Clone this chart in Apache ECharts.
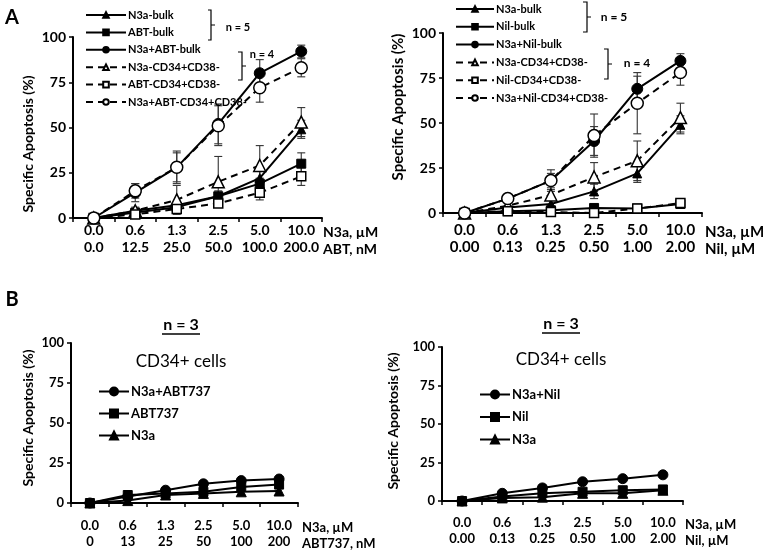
<!DOCTYPE html>
<html>
<head>
<meta charset="utf-8">
<script src="https://cdn.jsdelivr.net/npm/echarts@6/dist/echarts.min.js"></script>
<style>html,body{margin:0;padding:0;background:#fff}#c{width:763px;height:552px}</style>
</head>
<body>
<div id="c"></div>
<script>
// ---- categories / tick labels ----
const n3aDose = ['0.0', '0.6', '1.3', '2.5', '5.0', '10.0'];
const abtDose = ['0.0', '12.5', '25.0', '50.0', '100.0', '200.0'];
const nilDose = ['0.00', '0.13', '0.25', '0.50', '1.00', '2.00'];
const abt737Dose = ['0', '13', '25', '50', '100', '200'];
const yTicks = [0, 25, 50, 75, 100];

// ---- panel A left (N3a + ABT) ----
const aL_N3aBulk = [0, 4, 7, 12, 22, 49];
const aL_AbtBulk = [0, 3, 6, 12, 19, 30];
const aL_ComboBulk = [0, 14, 28, 52, 80, 92];
const aL_N3aCD = [0, 4, 10, 20, 29, 53];
const aL_AbtCD = [0, 2, 5, 8, 14, 23];
const aL_ComboCD = [0, 15, 28, 51, 72, 83];
const aL_errN3aBulk = [0, 1, 2, 3, 4, 5];
const aL_errAbtBulk = [0, 1, 1, 2, 3, 6];
const aL_errComboBulk = [0, 5, 9, 11, 7.5, 3.5];
const aL_errN3aCD = [0, 2, 8, 14, 11, 8];
const aL_errAbtCD = [0, 1, 2, 2, 4, 5];
const aL_errComboCD = [0, 4, 8, 11, 8, 5];

// ---- panel A right (N3a + Nil) ----
const aR_N3aBulk = [0, 3, 5, 12, 22, 49];
const aR_NilBulk = [0, 1, 1.5, 2.8, 2.5, 5];
const aR_ComboBulk = [0, 8, 18, 40, 69, 84.5];
const aR_N3aCD = [0, 4, 10, 20, 29, 53];
const aR_NilCD = [0, 1, 0.5, 0, 2.5, 5.5];
const aR_ComboCD = [0, 8, 18, 43, 61, 78];
const aR_errN3aBulk = [0, 1, 2, 4, 5, 5];
const aR_errNilBulk = [0, 0.5, 0.5, 0.5, 1, 1];
const aR_errComboBulk = [0, 2, 6, 8, 7, 4];
const aR_errN3aCD = [0, 2, 3, 8, 11, 8];
const aR_errNilCD = [0, 0.5, 0.5, 0.5, 1, 1];
const aR_errComboCD = [0, 2, 4, 12, 17, 7];

// ---- panel B left (CD34+ cells, ABT737) ----
const bL_Combo = [0, 4, 8, 12, 14, 15];
const bL_Abt = [0, 5, 6, 7, 10, 11.5];
const bL_N3a = [0, 1.5, 5, 6, 7, 7.5];

// ---- panel B right (CD34+ cells, Nil) ----
const bR_Combo = [0, 5, 8.5, 12.5, 14.5, 17];
const bR_Nil = [0, 3, 5, 6, 7, 7.5];
const bR_N3a = [0, 2, 2.5, 5, 5, 7];

const FONT = 'Lato, "Noto Sans", sans-serif';
const BLACK = '#000';

function cats(a, b) { return a.map((v, i) => v + '\n' + b[i]); }

function lineSeries(name, data, gi, symbol, filled, dashed, size) {
  return {
    type: 'line', name: name, data: data,
    xAxisIndex: gi, yAxisIndex: gi,
    symbol: symbol, symbolSize: size,
    showSymbol: true,
    lineStyle: { color: BLACK, width: 2, type: dashed ? [7, 5] : 'solid' },
    itemStyle: filled ? { color: BLACK, borderColor: BLACK, borderWidth: 1 }
                      : { color: '#fff', borderColor: BLACK, borderWidth: 1.5 },
    z: filled ? 3 : 4,
    animation: false
  };
}

function errSeries(vals, errs, gi) {
  const d = [];
  vals.forEach((v, i) => { if (errs[i] > 0) d.push([i, v, errs[i]]); });
  return {
    type: 'custom', xAxisIndex: gi, yAxisIndex: gi, z: 2, silent: true,
    animation: false,
    encode: { x: 0, y: 1 },
    data: d,
    renderItem: function (params, api) {
      const x = api.value(0), v = api.value(1), e = api.value(2);
      const hi = api.coord([x, v + e]);
      const lo = api.coord([x, Math.max(v - e, -100)]);
      const w = 4;
      const st = { stroke: '#333', lineWidth: 1.1 };
      return {
        type: 'group', children: [
          { type: 'line', shape: { x1: hi[0], y1: hi[1], x2: lo[0], y2: lo[1] }, style: st },
          { type: 'line', shape: { x1: hi[0] - w, y1: hi[1], x2: hi[0] + w, y2: hi[1] }, style: st },
          { type: 'line', shape: { x1: lo[0] - w, y1: lo[1], x2: lo[0] + w, y2: lo[1] }, style: st }
        ]
      };
    }
  };
}

const grids = [
  { left: 73, top: 37, width: 249, height: 181, outerBoundsMode: 'none' },
  { left: 443, top: 33, width: 259, height: 180, outerBoundsMode: 'none' },
  { left: 71, top: 343, width: 227, height: 160, outerBoundsMode: 'none' },
  { left: 442, top: 347, width: 241, height: 154, outerBoundsMode: 'none' }
];

function xAxis(gi, data, name, fs, lh, margin, gap) {
  return {
    type: 'category', gridIndex: gi, data: data, boundaryGap: true,
    axisLine: { lineStyle: { color: BLACK, width: 2 } },
    axisTick: { show: true, alignWithLabel: false, length: 4, lineStyle: { color: BLACK, width: 1.5 } },
    axisLabel: { color: BLACK, fontFamily: FONT, fontWeight: 'bold', fontSize: fs, lineHeight: lh, margin: margin, interval: 0 },
    name: name, nameLocation: 'end', nameGap: gap,
    nameTextStyle: { color: BLACK, fontFamily: FONT, fontWeight: 'bold', fontSize: fs, lineHeight: lh,
      align: 'left', verticalAlign: 'top', padding: [margin + 2, 0, 0, 0] },
    splitLine: { show: false }
  };
}
function yAxis(gi, fs) {
  return {
    type: 'value', gridIndex: gi, min: yTicks[0], max: yTicks[yTicks.length - 1], interval: 25,
    axisLine: { show: true, lineStyle: { color: BLACK, width: 2 } },
    axisTick: { show: true, length: 4, lineStyle: { color: BLACK, width: 1.5 } },
    axisLabel: { color: BLACK, fontFamily: FONT, fontWeight: 'bold', fontSize: fs, margin: 7 },
    splitLine: { show: false }
  };
}

const series = [
  // A left
  errSeries(aL_N3aBulk, aL_errN3aBulk, 0),
  errSeries(aL_AbtBulk, aL_errAbtBulk, 0),
  errSeries(aL_ComboBulk, aL_errComboBulk, 0),
  errSeries(aL_N3aCD, aL_errN3aCD, 0),
  errSeries(aL_AbtCD, aL_errAbtCD, 0),
  errSeries(aL_ComboCD, aL_errComboCD, 0),
  lineSeries('N3a-bulk', aL_N3aBulk, 0, 'triangle', true, false, 9),
  lineSeries('ABT-bulk', aL_AbtBulk, 0, 'rect', true, false, 9),
  lineSeries('N3a+ABT-bulk', aL_ComboBulk, 0, 'circle', true, false, 11),
  lineSeries('N3a-CD34+CD38-', aL_N3aCD, 0, 'triangle', false, true, 12),
  lineSeries('ABT-CD34+CD38-', aL_AbtCD, 0, 'rect', false, true, 9),
  lineSeries('N3a+ABT-CD34+CD38-', aL_ComboCD, 0, 'circle', false, true, 12),
  // A right
  errSeries(aR_N3aBulk, aR_errN3aBulk, 1),
  errSeries(aR_NilBulk, aR_errNilBulk, 1),
  errSeries(aR_ComboBulk, aR_errComboBulk, 1),
  errSeries(aR_N3aCD, aR_errN3aCD, 1),
  errSeries(aR_NilCD, aR_errNilCD, 1),
  errSeries(aR_ComboCD, aR_errComboCD, 1),
  lineSeries('N3a-bulk', aR_N3aBulk, 1, 'triangle', true, false, 9),
  lineSeries('Nil-bulk', aR_NilBulk, 1, 'rect', true, false, 9),
  lineSeries('N3a+Nil-bulk', aR_ComboBulk, 1, 'circle', true, false, 11),
  lineSeries('N3a-CD34+CD38-', aR_N3aCD, 1, 'triangle', false, true, 12),
  lineSeries('Nil-CD34+CD38-', aR_NilCD, 1, 'rect', false, true, 9),
  lineSeries('N3a+Nil-CD34+CD38-', aR_ComboCD, 1, 'circle', false, true, 12),
  // B left
  lineSeries('N3a+ABT737', bL_Combo, 2, 'circle', true, false, 10),
  lineSeries('ABT737', bL_Abt, 2, 'rect', true, false, 9),
  lineSeries('N3a', bL_N3a, 2, 'triangle', true, false, 10),
  // B right
  lineSeries('N3a+Nil', bR_Combo, 3, 'circle', true, false, 10),
  lineSeries('Nil', bR_Nil, 3, 'rect', true, false, 9),
  lineSeries('N3a', bR_N3a, 3, 'triangle', true, false, 10)
];

function legend(left, top, names, w, h, gap, fs) {
  return {
    orient: 'vertical', left: left, top: top, data: names,
    itemWidth: w, itemHeight: h, itemGap: gap, padding: 0,
    selectedMode: false,
    textStyle: { color: BLACK, fontFamily: FONT, fontWeight: 'bold', fontSize: fs, lineHeight: h, padding: [0, 0, 0, -3] }
  };
}

function txt(x, y, text, fs, weight, rot) {
  return {
    type: 'text', x: x, y: y, rotation: rot || 0, silent: true,
    style: { text: text, fill: BLACK, font: (weight || 'bold') + ' ' + fs + 'px ' + FONT, align: 'center', verticalAlign: 'middle' }
  };
}
function bracket(x, y1, y2, lx, nx) {
  return {
    type: 'polyline', silent: true,
    shape: { points: [[lx, y1], [x, y1], [x, (y1 + y2) / 2], [nx, (y1 + y2) / 2], [x, (y1 + y2) / 2], [x, y2], [lx, y2]] },
    style: { stroke: BLACK, lineWidth: 1.2, fill: null }
  };
}
function hline(x1, x2, y) {
  return { type: 'line', silent: true, shape: { x1: x1, y1: y, x2: x2, y2: y }, style: { stroke: BLACK, lineWidth: 1.3 } };
}

const option = {
  backgroundColor: '#fff',
  animation: false,
  grid: grids,
  xAxis: [
    xAxis(0, cats(n3aDose, abtDose), 'N3a, µM\nABT, nM', 14, 17, 4, -2),
    xAxis(1, cats(n3aDose, nilDose), 'N3a, µM\nNil, µM', 15, 17, 9, 3),
    xAxis(2, cats(n3aDose, abt737Dose), 'N3a, µM\nABT737, nM', 13, 16, 15, 4),
    xAxis(3, cats(n3aDose, nilDose), 'N3a, µM\nNil, µM', 13, 16, 14, 2)
  ],
  yAxis: [yAxis(0, 14), yAxis(1, 14), yAxis(2, 13), yAxis(3, 13)],
  legend: [
    legend(85, 9.5, ['N3a-bulk', 'ABT-bulk', 'N3a+ABT-bulk', 'N3a-CD34+CD38-', 'ABT-CD34+CD38-', 'N3a+ABT-CD34+CD38-'], 40, 7, 6.4, 11),
    legend(455, 3.5, ['N3a-bulk', 'Nil-bulk', 'N3a+Nil-bulk', 'N3a-CD34+CD38-', 'Nil-CD34+CD38-', 'N3a+Nil-CD34+CD38-'], 38, 7, 6.8, 11),
    legend(98, 385, ['N3a+ABT737', 'ABT737', 'N3a'], 30, 10, 9, 13),
    legend(479, 388, ['N3a+Nil', 'Nil', 'N3a'], 30, 10, 9.5, 13)
  ],
  graphic: [
    txt(12, 18, 'A', 20),
    txt(12, 300, 'B', 20),
    txt(28, 144, 'Specific Apoptosis (%)', 14, 'bold', Math.PI / 2),
    txt(398, 107, 'Specific Apoptosis (%)', 15, 'bold', Math.PI / 2),
    txt(28, 418, 'Specific Apoptosis (%)', 14, 'bold', Math.PI / 2),
    txt(393, 421, 'Specific Apoptosis (%)', 14, 'bold', Math.PI / 2),
    bracket(211, 10, 40, 208, 215),
    txt(238, 27, 'n = 5', 11),
    bracket(242, 52, 80, 238, 246),
    txt(262, 54, 'n = 4', 11),
    bracket(587, 2, 32, 583, 591),
    txt(614, 17, 'n = 5', 12),
    bracket(608, 49, 79, 604, 612),
    txt(637, 63, 'n = 4', 12),
    txt(181, 325, 'n = 3', 16, 'bold'),
    hline(162, 200, 334),
    txt(561, 324, 'n = 3', 16, 'bold'),
    hline(542, 580, 333),
    txt(181, 362, 'CD34+ cells', 17, 'normal'),
    txt(561, 360, 'CD34+ cells', 17, 'normal')
  ],
  series: series
};

const chart = echarts.init(document.getElementById('c'), null, { renderer: 'canvas' });
chart.setOption(option);
</script>
</body>
</html>
